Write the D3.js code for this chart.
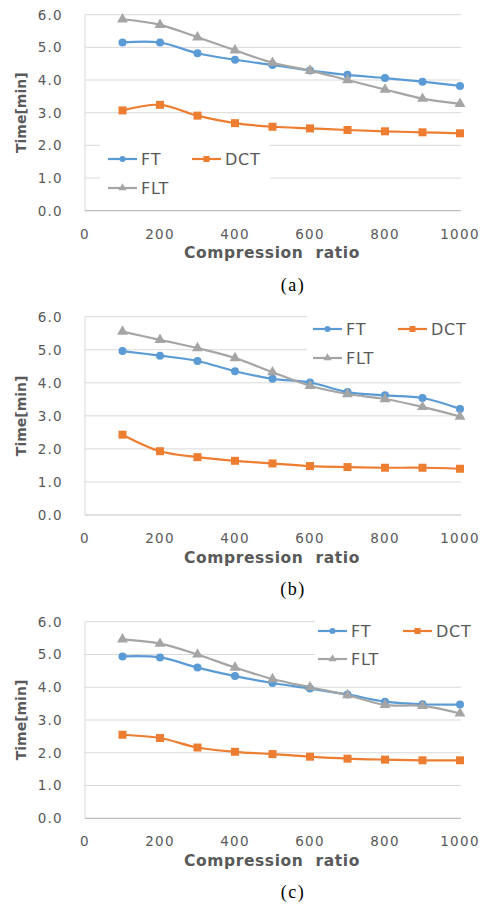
<!doctype html>
<html lang="en">
<head>
<meta charset="utf-8">
<title>Time vs compression ratio</title>
<style>
  body { margin: 0; background: #fff; }
  .tick-label { font-family: "DejaVu Sans", sans-serif; font-size: 13.5px; fill: #595959; letter-spacing: 1.3px; }
  .axis-title { font-family: "DejaVu Sans", sans-serif; font-weight: bold; fill: #595959; white-space: pre; }
  .legend-text { font-family: "DejaVu Sans", sans-serif; font-size: 16px; fill: #595959; letter-spacing: 0.8px; }
  .caption { font-family: "Liberation Serif", "DejaVu Serif", serif; font-size: 18px; fill: #000; letter-spacing: 1.5px; }
</style>
<script src="https://d3js.org/d3.v7.min.js"></script>
</head>
<body>
<div id="chart"></div>
<script>
// compression ratios on the x axis
var ratios = [100, 200, 300, 400, 500, 600, 700, 800, 900, 1000];
var xTicks = [0, 200, 400, 600, 800, 1000];
var yTicks = [0, 1, 2, 3, 4, 5, 6];
var seriesNames = ["FT", "DCT", "FLT"];
var panelLabels = ["(a)", "(b)", "(c)"];

// panel (a)
var ftA  = [5.15, 5.15, 4.82, 4.62, 4.46, 4.29, 4.16, 4.06, 3.95, 3.82];
var dctA = [3.07, 3.24, 2.91, 2.68, 2.57, 2.52, 2.47, 2.43, 2.40, 2.37];
var fltA = [5.86, 5.69, 5.31, 4.91, 4.53, 4.29, 4.00, 3.71, 3.43, 3.27];
// panel (b)
var ftB  = [4.96, 4.82, 4.66, 4.35, 4.12, 4.01, 3.72, 3.62, 3.54, 3.21];
var dctB = [2.43, 1.93, 1.75, 1.64, 1.56, 1.48, 1.45, 1.43, 1.43, 1.40];
var fltB = [5.55, 5.30, 5.05, 4.75, 4.32, 3.91, 3.66, 3.51, 3.27, 2.98];
// panel (c)
var ftC  = [4.94, 4.91, 4.60, 4.34, 4.13, 3.96, 3.78, 3.56, 3.48, 3.47];
var dctC = [2.55, 2.45, 2.16, 2.03, 1.96, 1.88, 1.82, 1.79, 1.77, 1.77];
var fltC = [5.46, 5.33, 5.00, 4.60, 4.25, 4.00, 3.76, 3.46, 3.43, 3.20];

var colors = {FT: "#5B9BD5", DCT: "#ED7D31", FLT: "#A5A5A5"};

var svg = d3.select("#chart").append("svg")
  .attr("width", 482)
  .attr("height", 906);

// where each panel sits on the page (y of 6.0 and 0.0), plus legend placement
var panels = [
  {data: [ftA, dctA, fltA], top: 14.7, bottom: 210.7, label: panelLabels[0],
   legend: {box: [100, 142, 170, 56], x: 108, y: 159, dx: 84, dy: 29}},
  {data: [ftB, dctB, fltB], top: 316.7, bottom: 515, label: panelLabels[1],
   legend: {box: [307, 312, 175, 56], x: 313, y: 329, dx: 85, dy: 29}},
  {data: [ftC, dctC, fltC], top: 621.7, bottom: 818.3, label: panelLabels[2],
   legend: {box: [315, 617, 167, 56], x: 318, y: 631, dx: 85, dy: 28}}
];

var x = d3.scaleLinear().domain([0, 1000]).range([85, 460]);

function drawMarker(g, name, cx, cy, size) {
  if (name == "FT") {
    g.append("circle").attr("cx", cx).attr("cy", cy).attr("r", size)
      .attr("fill", colors.FT);
  } else if (name == "DCT") {
    g.append("rect").attr("x", cx - size).attr("y", cy - size)
      .attr("width", size * 2).attr("height", size * 2)
      .attr("fill", colors.DCT);
  } else {
    var tri = d3.symbol().type(d3.symbolTriangle).size(size * size * 3.2);
    g.append("path").attr("d", tri()).attr("transform", "translate(" + cx + "," + cy + ")")
      .attr("fill", colors.FLT);
  }
}

panels.forEach(function(p) {
  var y = d3.scaleLinear().domain([0, 6]).range([p.bottom, p.top]);
  var g = svg.append("g");

  // gridlines
  g.selectAll(".grid").data(yTicks.slice(1)).enter().append("line")
    .attr("x1", x(0)).attr("x2", 461)
    .attr("y1", function(d) { return y(d); })
    .attr("y2", function(d) { return y(d); })
    .attr("stroke", "#D9D9D9").attr("stroke-width", 1);

  // axis lines
  g.append("line").attr("x1", x(0)).attr("x2", x(0)).attr("y1", y(6)).attr("y2", y(0))
    .attr("stroke", "#D9D9D9");
  g.append("line").attr("x1", x(0)).attr("x2", 461).attr("y1", y(0)).attr("y2", y(0))
    .attr("stroke", "#BFBFBF").attr("stroke-width", 1.2);

  // tick labels
  g.selectAll(".ylab").data(yTicks).enter().append("text")
    .attr("class", "tick-label")
    .attr("x", 63).attr("y", function(d) { return y(d); })
    .attr("dy", "0.36em").attr("text-anchor", "end")
    .text(function(d) { return d.toFixed(1); });
  g.selectAll(".xlab").data(xTicks).enter().append("text")
    .attr("class", "tick-label")
    .attr("x", function(d) { return x(d); }).attr("y", p.bottom + 23)
    .attr("dy", "0.36em").attr("text-anchor", "middle")
    .text(function(d) { return d; });

  // axis titles
  g.append("text").attr("class", "axis-title")
    .attr("x", 272).attr("y", p.bottom + 42).attr("dy", "0.36em")
    .attr("text-anchor", "middle").style("font-size", "15.5px").style("letter-spacing", "0.6px")
    .text("Compression  ratio");
  g.append("text").attr("class", "axis-title")
    .attr("transform", "translate(21," + ((p.top + p.bottom) / 2) + ") rotate(-90)")
    .attr("dy", "0.36em").attr("text-anchor", "middle").style("font-size", "14px")
    .text("Time[min]");

  // legend background hides the gridlines behind it
  var lg = p.legend;
  g.append("rect").attr("x", lg.box[0]).attr("y", lg.box[1])
    .attr("width", lg.box[2]).attr("height", lg.box[3]).attr("fill", "#fff");

  // series
  var line = d3.line()
    .x(function(d, i) { return x(ratios[i]); })
    .y(function(d) { return y(d); })
    .curve(d3.curveCatmullRom.alpha(0.5));

  seriesNames.forEach(function(name, k) {
    g.append("path").datum(p.data[k])
      .attr("d", line).attr("fill", "none")
      .attr("stroke", colors[name]).attr("stroke-width", 2.2);
  });
  seriesNames.forEach(function(name, k) {
    var mg = g.append("g");
    p.data[k].forEach(function(v, i) {
      drawMarker(mg, name, x(ratios[i]), y(v), 4);
    });
  });

  // legend entries
  seriesNames.forEach(function(name, k) {
    var lx = lg.x + (k == 1 ? lg.dx : 0);
    var ly = lg.y + (k == 2 ? lg.dy : 0);
    g.append("line").attr("x1", lx).attr("x2", lx + 29).attr("y1", ly).attr("y2", ly)
      .attr("stroke", colors[name]).attr("stroke-width", 2.2);
    drawMarker(g, name, lx + 14.5, ly, 3);
    g.append("text").attr("class", "legend-text")
      .attr("x", lx + 33).attr("y", ly).attr("dy", "0.36em")
      .text(name);
  });

  // caption
  svg.append("text").attr("class", "caption")
    .attr("x", 293).attr("y", p.bottom + 74).attr("dy", "0.34em")
    .attr("text-anchor", "middle").text(p.label);
});
</script>
</body>
</html>
